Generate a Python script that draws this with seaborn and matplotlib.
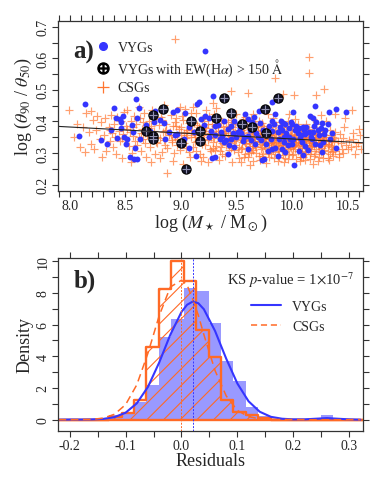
import numpy as np
import matplotlib
matplotlib.use("Agg")
import matplotlib.pyplot as plt
import seaborn as sns
from matplotlib.lines import Line2D
from matplotlib.ticker import MultipleLocator

# ---------------- panel a) : concentration vs stellar mass ----------------
# CSGs (grouped by mass bins of 0.1 dex)
csg_mass = [
    7.99, 8.04, 8.07, 8.09,
    8.12, 8.14, 8.15, 8.17, 8.19, 8.19,
    8.21, 8.22, 8.24, 8.25, 8.27, 8.28, 8.29,
    8.31, 8.32, 8.33, 8.35, 8.36, 8.37, 8.38, 8.39,
    8.40, 8.41, 8.42, 8.43, 8.44, 8.45, 8.46, 8.47, 8.48, 8.49,
    8.50, 8.51, 8.52, 8.53, 8.54, 8.55, 8.56, 8.57, 8.58, 8.59, 8.55, 8.52,
    8.60, 8.61, 8.62, 8.63, 8.64, 8.65, 8.66, 8.67, 8.68, 8.69, 8.62, 8.66, 8.68,
    8.70, 8.71, 8.72, 8.73, 8.74, 8.75, 8.76, 8.77, 8.78, 8.79, 8.71, 8.73, 8.76, 8.78,
    8.80, 8.81, 8.82, 8.83, 8.84, 8.85, 8.86, 8.87, 8.88, 8.89, 8.81, 8.83, 8.85, 8.87, 8.88,
    8.90, 8.91, 8.92, 8.93, 8.94, 8.95, 8.96, 8.97, 8.98, 8.99, 8.91, 8.93, 8.95, 8.97, 8.99, 8.95,
    9.00, 9.01, 9.02, 9.03, 9.04, 9.05, 9.06, 9.07, 9.08, 9.09, 9.01, 9.03, 9.05, 9.07, 9.09, 9.02, 9.06,
    9.10, 9.11, 9.12, 9.13, 9.14, 9.15, 9.16, 9.17, 9.18, 9.19, 9.11, 9.12, 9.14, 9.15, 9.17, 9.18, 9.13, 9.19,
    9.20, 9.21, 9.22, 9.23, 9.24, 9.25, 9.26, 9.27, 9.28, 9.29, 9.20, 9.22, 9.23, 9.25, 9.26, 9.28, 9.29, 9.21, 9.24,
    9.30, 9.31, 9.32, 9.33, 9.34, 9.35, 9.36, 9.37, 9.38, 9.39, 9.30, 9.31, 9.33, 9.34, 9.36, 9.37, 9.38, 9.32, 9.35, 9.39,
    9.40, 9.41, 9.42, 9.43, 9.44, 9.45, 9.46, 9.47, 9.48, 9.49, 9.40, 9.41, 9.42, 9.44, 9.45, 9.46, 9.48, 9.49, 9.43, 9.47, 9.45,
    9.50, 9.51, 9.52, 9.53, 9.54, 9.55, 9.56, 9.57, 9.58, 9.59, 9.50, 9.51, 9.52, 9.53, 9.55, 9.56, 9.57, 9.58, 9.54, 9.59, 9.51, 9.56,
    9.60, 9.61, 9.62, 9.63, 9.64, 9.65, 9.66, 9.67, 9.68, 9.69, 9.60, 9.61, 9.62, 9.63, 9.64, 9.65, 9.66, 9.67, 9.68, 9.69, 9.62, 9.65, 9.60,
    9.70, 9.71, 9.72, 9.73, 9.74, 9.75, 9.76, 9.77, 9.78, 9.79, 9.70, 9.71, 9.72, 9.73, 9.74, 9.75, 9.76, 9.77, 9.78, 9.79, 9.71, 9.73, 9.75, 9.77,
    9.80, 9.81, 9.82, 9.83, 9.84, 9.85, 9.86, 9.87, 9.88, 9.89, 9.80, 9.81, 9.82, 9.83, 9.84, 9.85, 9.86, 9.87, 9.88, 9.89, 9.81, 9.83, 9.85, 9.87, 9.89,
    9.90, 9.91, 9.92, 9.93, 9.94, 9.95, 9.96, 9.97, 9.98, 9.99, 9.90, 9.91, 9.92, 9.93, 9.94, 9.95, 9.96, 9.97, 9.98, 9.99, 9.91, 9.93, 9.95, 9.97, 9.99, 9.92,
    10.00, 10.01, 10.02, 10.03, 10.04, 10.05, 10.06, 10.07, 10.08, 10.09, 10.00, 10.01, 10.02, 10.03, 10.04, 10.05, 10.06, 10.07, 10.08, 10.09, 10.01, 10.03, 10.05, 10.07, 10.09, 10.02, 10.06,
    10.10, 10.11, 10.12, 10.13, 10.14, 10.15, 10.16, 10.17, 10.18, 10.19, 10.10, 10.11, 10.12, 10.13, 10.14, 10.15, 10.16, 10.17, 10.18, 10.19, 10.11, 10.13, 10.15, 10.17, 10.19, 10.15, 10.15,
    10.20, 10.21, 10.22, 10.23, 10.24, 10.25, 10.26, 10.27, 10.28, 10.29, 10.20, 10.21, 10.22, 10.23, 10.24, 10.25, 10.26, 10.27, 10.28, 10.29, 10.22, 10.26, 10.29,
    10.30, 10.31, 10.32, 10.33, 10.34, 10.35, 10.36, 10.37, 10.38, 10.39, 10.31, 10.33, 10.35, 10.37, 10.39,
    10.41, 10.43, 10.45, 10.47, 10.49, 10.42, 10.46, 10.48,
    10.51, 10.53, 10.55, 10.57, 10.59, 10.54, 10.61, 10.62,
    # dense core
    9.32, 9.36, 9.41, 9.43, 9.47, 9.49, 9.52, 9.54, 9.57, 9.59,
    9.61, 9.63, 9.65, 9.67, 9.69, 9.71, 9.73, 9.75, 9.77, 9.79,
    9.81, 9.83, 9.85, 9.87, 9.89, 9.91, 9.93, 9.95, 9.97, 9.99,
    10.01, 10.03, 10.05, 10.07, 10.09, 10.11, 10.13, 10.15, 10.17, 10.19,
    10.21, 10.23, 10.25, 10.27, 10.29, 10.31, 10.33, 10.35, 10.37, 10.39,
    9.55, 9.58, 9.62, 9.66, 9.68, 9.72, 9.74, 9.76, 9.78, 9.80,
    9.82, 9.84, 9.86, 9.88, 9.90, 9.92, 9.94, 9.96, 9.98, 10.00,
    10.02, 10.04, 10.06, 10.08, 10.10, 10.12, 10.14, 10.16, 10.18, 10.20,
    10.22, 10.24, 10.26, 10.28, 10.30, 10.32, 10.34, 10.36, 10.38, 10.44,
    9.05, 9.09, 9.13, 9.17, 9.21, 9.24, 9.27, 9.29, 9.33, 9.37,
    8.86, 8.92, 8.96, 9.00, 8.74, 8.79, 8.64, 8.57, 8.47, 8.36,
    9.44, 9.46, 9.48, 9.53, 9.57, 9.61, 9.64, 9.70, 9.74, 9.79,
    9.84, 9.88, 9.92, 9.96, 10.00, 10.04, 10.08, 10.12, 10.16, 10.20,
    10.24, 10.28, 10.32, 10.36, 10.42, 10.46, 10.50, 10.55, 10.60, 10.58,
]
csg_conc = [
    0.437, 0.352, 0.392, 0.318,
    0.381, 0.302, 0.428, 0.366, 0.434, 0.329,
    0.405, 0.312, 0.372, 0.418, 0.344, 0.397, 0.289,
    0.357, 0.410, 0.305, 0.383, 0.338, 0.421, 0.365, 0.319,
    0.392, 0.352, 0.296, 0.415, 0.371, 0.338, 0.402, 0.283, 0.360, 0.430,
    0.346, 0.385, 0.437, 0.322, 0.368, 0.401, 0.299, 0.355, 0.417, 0.337, 0.272, 0.377,
    0.391, 0.325, 0.352, 0.412, 0.306, 0.376, 0.345, 0.428, 0.362, 0.289, 0.446, 0.398, 0.331,
    0.357, 0.402, 0.318, 0.385, 0.436, 0.341, 0.371, 0.296, 0.409, 0.352, 0.378, 0.273, 0.423, 0.334,
    0.389, 0.348, 0.415, 0.303, 0.366, 0.452, 0.327, 0.392, 0.236, 0.357, 0.283, 0.406, 0.341, 0.372, 0.316,
    0.368, 0.421, 0.335, 0.387, 0.299, 0.352, 0.412, 0.324, 0.376, 0.447, 0.356, 0.275, 0.398, 0.346, 0.311, 0.661,
    0.383, 0.342, 0.405, 0.362, 0.438, 0.317, 0.374, 0.395, 0.288, 0.351, 0.418, 0.331, 0.366, 0.302, 0.426, 0.265, 0.356,
    0.372, 0.318, 0.394, 0.351, 0.427, 0.339, 0.381, 0.296, 0.362, 0.409, 0.446, 0.365, 0.308, 0.389, 0.344, 0.276, 0.357, 0.328,
    0.357, 0.402, 0.326, 0.378, 0.341, 0.418, 0.364, 0.306, 0.393, 0.335, 0.289, 0.371, 0.436, 0.352, 0.314, 0.368, 0.459, 0.383, 0.273,
    0.348, 0.387, 0.322, 0.369, 0.412, 0.339, 0.358, 0.296, 0.381, 0.346, 0.425, 0.311, 0.353, 0.278, 0.394, 0.332, 0.365, 0.443, 0.305, 0.371,
    0.362, 0.327, 0.398, 0.344, 0.376, 0.315, 0.352, 0.421, 0.338, 0.367, 0.291, 0.385, 0.357, 0.331, 0.404, 0.272, 0.349, 0.395, 0.311, 0.358, 0.497,
    0.341, 0.372, 0.318, 0.389, 0.353, 0.334, 0.407, 0.362, 0.297, 0.346, 0.425, 0.357, 0.283, 0.369, 0.316, 0.381, 0.338, 0.414, 0.271, 0.328, 0.302, 0.354,
    0.352, 0.321, 0.376, 0.341, 0.398, 0.309, 0.362, 0.335, 0.384, 0.347, 0.289, 0.367, 0.331, 0.412, 0.356, 0.274, 0.339, 0.393, 0.318, 0.371, 0.262, 0.425, 0.489,
    0.338, 0.365, 0.312, 0.351, 0.387, 0.326, 0.344, 0.372, 0.301, 0.357, 0.403, 0.329, 0.361, 0.292, 0.339, 0.378, 0.315, 0.348, 0.423, 0.333, 0.278, 0.396, 0.355, 0.267,
    0.347, 0.318, 0.371, 0.336, 0.359, 0.302, 0.388, 0.325, 0.352, 0.341, 0.381, 0.296, 0.345, 0.412, 0.328, 0.539, 0.335, 0.366, 0.289, 0.398, 0.357, 0.311, 0.373, 0.276, 0.323,
    0.332, 0.364, 0.313, 0.349, 0.326, 0.381, 0.341, 0.297, 0.356, 0.334, 0.377, 0.308, 0.342, 0.365, 0.285, 0.329, 0.402, 0.351, 0.319, 0.373, 0.345, 0.272, 0.359, 0.423, 0.315, 0.487,
    0.339, 0.318, 0.357, 0.331, 0.372, 0.305, 0.346, 0.325, 0.361, 0.338, 0.384, 0.296, 0.348, 0.312, 0.336, 0.393, 0.328, 0.287, 0.354, 0.369, 0.322, 0.407, 0.341, 0.274, 0.315, 0.483, 0.364,
    0.334, 0.352, 0.316, 0.341, 0.367, 0.323, 0.345, 0.306, 0.358, 0.331, 0.289, 0.372, 0.337, 0.391, 0.312, 0.349, 0.281, 0.364, 0.327, 0.409, 0.346, 0.298, 0.376, 0.335, 0.265, 0.605, 0.553,
    0.331, 0.357, 0.314, 0.345, 0.326, 0.369, 0.302, 0.338, 0.352, 0.321, 0.383, 0.296, 0.348, 0.274, 0.362, 0.335, 0.391, 0.317, 0.285, 0.342, 0.485, 0.419, 0.503,
    0.328, 0.351, 0.306, 0.339, 0.372, 0.318, 0.345, 0.291, 0.334, 0.366, 0.402, 0.277, 0.356, 0.312, 0.425,
    0.337, 0.359, 0.314, 0.382, 0.326, 0.298, 0.348, 0.412,
    0.342, 0.318, 0.365, 0.296, 0.331, 0.436, 0.358, 0.312,
    # dense core
    0.362, 0.318, 0.371, 0.334, 0.382, 0.326, 0.361, 0.312, 0.348, 0.392,
    0.342, 0.304, 0.361, 0.322, 0.386, 0.351, 0.318, 0.343, 0.361, 0.309,
    0.332, 0.368, 0.344, 0.312, 0.359, 0.326, 0.381, 0.347, 0.328, 0.355,
    0.336, 0.352, 0.321, 0.343, 0.302, 0.361, 0.327, 0.339, 0.318, 0.351,
    0.341, 0.322, 0.348, 0.362, 0.311, 0.337, 0.324, 0.341, 0.352, 0.308,
    0.374, 0.331, 0.385, 0.352, 0.301, 0.374, 0.361, 0.331, 0.345, 0.362,
    0.326, 0.341, 0.352, 0.333, 0.347, 0.361, 0.338, 0.312, 0.342, 0.361,
    0.326, 0.347, 0.358, 0.331, 0.349, 0.305, 0.352, 0.331, 0.343, 0.322,
    0.366, 0.308, 0.329, 0.345, 0.356, 0.329, 0.296, 0.321, 0.348, 0.331,
    0.347, 0.372, 0.336, 0.361, 0.343, 0.391, 0.352, 0.317, 0.384, 0.347,
    0.371, 0.342, 0.386, 0.356, 0.361, 0.331, 0.362, 0.381, 0.349, 0.372,
    0.355, 0.392, 0.309, 0.343, 0.289, 0.301, 0.315, 0.292, 0.298, 0.289,
    0.285, 0.306, 0.294, 0.282, 0.293, 0.281, 0.287, 0.279, 0.297, 0.291,
    0.287, 0.299, 0.285, 0.302, 0.289, 0.301, 0.312, 0.343, 0.375, 0.321,
]

# VYGs
vyg_mass = [
    8.08, 8.14, 8.28, 8.34, 8.40, 8.42, 8.45, 8.48, 8.46, 8.37,
    8.46, 8.56, 8.60, 8.43, 8.49, 8.52, 8.51, 8.54, 8.58, 8.61,
    8.57, 8.59, 8.62, 8.61, 8.63, 8.76, 8.77, 8.85, 8.86, 8.93,
    8.97, 9.04, 8.89, 8.95, 9.07, 9.07, 9.15, 9.16, 9.18, 9.21,
    9.22, 9.25, 9.27, 9.29, 9.12, 9.03, 9.22, 9.30, 9.31, 9.31,
    9.31, 9.39, 9.42, 9.45, 9.48, 9.52, 9.58, 9.60, 9.66, 9.64,
    9.70, 9.82, 9.85, 9.82, 9.90, 9.94, 9.99, 9.97, 9.51, 9.45,
    9.39, 9.48, 9.42, 9.43, 9.54, 9.60, 9.60, 9.67, 9.69, 9.82,
    9.87, 9.91, 9.93, 9.97, 9.78, 9.82, 9.85, 9.91, 9.94, 9.87,
    9.73, 9.75, 9.93, 10.00, 10.02, 9.36, 10.21, 10.33, 10.40, 10.49,
    10.16, 10.19, 10.22, 10.27, 10.13, 10.10, 10.04, 10.00, 10.15, 10.19,
    10.12, 10.01, 10.07, 10.18, 10.12, 10.06, 10.10, 10.27, 10.40, 9.14,
    9.28, 9.35, 9.56, 9.62, 9.76, 9.79, 9.88, 10.05, 10.09, 10.24,
    10.30, 10.34, 10.25, 10.14, 9.96, 9.72, 9.66, 9.50, 9.25, 9.18,
    8.97, 8.72, 8.81, 8.69, 10.01,
    9.33, 9.37, 9.41, 9.47, 9.53, 9.57, 9.63, 9.68, 9.71, 9.74,
    9.77, 9.81, 9.84, 9.89, 9.92, 9.95, 9.98, 10.03, 10.06, 10.08,
    10.11, 10.17, 10.20, 10.23, 10.26, 10.29, 10.32, 10.36, 10.21, 10.28,
]
vyg_conc = [
    0.355, 0.456, 0.342, 0.329, 0.442, 0.410, 0.408, 0.418, 0.398, 0.374,
    0.379, 0.389, 0.471, 0.347, 0.350, 0.345, 0.329, 0.287, 0.282, 0.282,
    0.366, 0.316, 0.442, 0.410, 0.345, 0.399, 0.434, 0.394, 0.343, 0.429,
    0.437, 0.427, 0.366, 0.358, 0.382, 0.316, 0.455, 0.461, 0.408, 0.389,
    0.418, 0.410, 0.370, 0.481, 0.366, 0.343, 0.622, 0.410, 0.385, 0.356,
    0.287, 0.403, 0.376, 0.386, 0.400, 0.392, 0.424, 0.408, 0.413, 0.398,
    0.434, 0.463, 0.424, 0.400, 0.403, 0.392, 0.398, 0.380, 0.366, 0.345,
    0.334, 0.319, 0.298, 0.325, 0.363, 0.355, 0.313, 0.329, 0.350, 0.370,
    0.366, 0.373, 0.350, 0.350, 0.308, 0.313, 0.316, 0.313, 0.303, 0.292,
    0.277, 0.282, 0.334, 0.329, 0.261, 0.366, 0.448, 0.429, 0.440, 0.431,
    0.418, 0.410, 0.397, 0.394, 0.382, 0.382, 0.387, 0.392, 0.366, 0.368,
    0.361, 0.345, 0.347, 0.345, 0.322, 0.305, 0.295, 0.303, 0.316, 0.292,
    0.283, 0.345, 0.338, 0.372, 0.358, 0.385, 0.344, 0.362, 0.335, 0.358,
    0.372, 0.346, 0.325, 0.310, 0.326, 0.340, 0.389, 0.350, 0.350, 0.340,
    0.360, 0.370, 0.405, 0.388, 0.429,
    0.390, 0.355, 0.342, 0.362, 0.378, 0.352, 0.341, 0.365, 0.395, 0.372,
    0.330, 0.345, 0.392, 0.383, 0.396, 0.362, 0.343, 0.372, 0.380, 0.356,
    0.372, 0.352, 0.385, 0.372, 0.380, 0.360, 0.392, 0.365, 0.330, 0.335,
]

# VYGs with EW(Halpha) > 150 A
ew_mass = [8.69, 8.75, 8.75, 8.75, 8.84, 9.00, 9.05, 9.09, 9.17,
           9.17, 9.32, 9.39, 9.45, 9.55, 9.64, 9.76, 9.77, 9.87]
ew_conc = [0.369, 0.355, 0.343, 0.420, 0.440, 0.331, 0.248, 0.403, 0.370,
           0.337, 0.410, 0.473, 0.426, 0.393, 0.381, 0.440, 0.365, 0.474]

# linear fit shown as a thin black line
fit_mass = [7.895, 10.64]
fit_conc = [0.3845, 0.3325]

# ---------------- panel b) : residual distributions ----------------
bin_edges = [-0.2185, -0.1963, -0.1740, -0.1518, -0.1295, -0.1073, -0.0850,
             -0.0628, -0.0405, -0.0183, 0.0040, 0.0263, 0.0485, 0.0708,
             0.0930, 0.1153, 0.1375, 0.1598, 0.1820, 0.2043, 0.2265,
             0.2488, 0.2710, 0.2933, 0.3155, 0.3378]
vyg_hist = [0.0, 0.0, 0.0, 0.1, 0.3, 0.5, 1.1, 2.2, 5.2, 6.35, 8.3, 8.1,
            6.1, 3.7, 2.45, 0.8, 0.25, 0.0, 0.0, 0.0, 0.0, 0.3, 0.0, 0.0, 0.0]
csg_hist = [0.0, 0.0, 0.0, 0.0, 0.17, 0.4, 1.22, 4.58, 8.25, 10.0, 8.78,
            5.63, 3.95, 1.22, 0.5, 0.27, 0.13, 0.0, 0.0, 0.0, 0.0, 0.0,
            0.0, 0.0, 0.0]

kde_x = [-0.22, -0.20, -0.18, -0.16, -0.14, -0.12, -0.10, -0.08, -0.06,
         -0.04, -0.02, 0.00, 0.01, 0.02, 0.03, 0.04, 0.06, 0.08, 0.10,
         0.12, 0.14, 0.16, 0.18, 0.20, 0.22, 0.24, 0.26, 0.28, 0.30, 0.32]
vyg_kde = [0.0, 0.01, 0.01, 0.02, 0.05, 0.16, 0.44, 1.03, 2.07, 3.6,
           5.36, 6.8, 7.25, 7.45, 7.35, 6.97, 5.6, 3.85, 2.28, 1.16,
           0.5, 0.18, 0.06, 0.02, 0.02, 0.06, 0.1, 0.06, 0.02, 0.0]
csg_kde = [0.0, 0.0, 0.01, 0.02, 0.1, 0.34, 0.95, 2.2, 4.2, 6.55,
           8.37, 8.8, 8.5, 7.6, 6.6, 5.37, 3.1, 1.5, 0.58, 0.19,
           0.05, 0.02, 0.01, 0.01, 0.0, 0.0, 0.0, 0.0, 0.0, 0.0]

vyg_median = 0.02
csg_median = 0.0

BLUE = "#3535ff"
ORANGE = "#ff6a26"
CROSS = "#ff7630"

sns.set_theme(style="ticks")
plt.rcParams["font.family"] = ["Liberation Serif", "DejaVu Serif"]
plt.rcParams["mathtext.fontset"] = "stix"
plt.rcParams["hatch.linewidth"] = 0.8

fig = plt.figure(figsize=(3.74, 4.81), dpi=100)
ax1 = fig.add_axes([0.155, 0.601, 0.816, 0.353])
ax2 = fig.add_axes([0.155, 0.102, 0.816, 0.3595])


def style_axis(ax):
    for sp in ax.spines.values():
        sp.set_color("#333333")
        sp.set_linewidth(0.9)
    ax.tick_params(which="both", direction="out", top=True, right=True,
                   length=4, width=0.8, color="#333333", labelsize=10,
                   pad=2)
    ax.tick_params(axis="y", labelrotation=90)
    for lab in ax.get_yticklabels():
        lab.set_va("center")


# panel a
sns.scatterplot(x=csg_mass, y=csg_conc, ax=ax1, marker="+", s=40,
                color=CROSS, alpha=0.7, linewidth=0.85)
sns.scatterplot(x=vyg_mass, y=vyg_conc, ax=ax1, marker="o", s=18,
                color=BLUE, linewidth=0)
sns.scatterplot(x=ew_mass, y=ew_conc, ax=ax1, marker="o", s=44,
                color="#15152a", edgecolor="black", linewidth=0.8)
sns.scatterplot(x=ew_mass, y=ew_conc, ax=ax1, marker="+", s=26,
                color="#9090b0", linewidth=0.8)
sns.lineplot(x=fit_mass, y=fit_conc, ax=ax1, color="#222222", linewidth=0.8)

ax1.set_xlim(7.895, 10.64)
ax1.set_ylim(0.18, 0.718)
ax1.xaxis.set_major_locator(MultipleLocator(0.5))
ax1.xaxis.set_minor_locator(MultipleLocator(0.1))
ax1.yaxis.set_major_locator(MultipleLocator(0.1))
ax1.yaxis.set_minor_locator(MultipleLocator(0.05))
ax1.set_xlabel(r"log ($M_\star$ / M$_\odot$)", fontsize=13, labelpad=0)
ax1.set_ylabel(r"log ($\theta_{90}$ / $\theta_{50}$)", fontsize=13, labelpad=2)
style_axis(ax1)

handles_a = [
    Line2D([], [], ls="", marker="o", color=BLUE, markersize=5.5),
    Line2D([], [], ls="", marker=r"$\oplus$", color="black", markersize=8),
    Line2D([], [], ls="", marker="+", color=CROSS, markersize=8,
           markeredgewidth=0.9),
]
ax1.legend(handles_a, ["VYGs", r"VYGs with EW(H$\alpha$) > 150 $\mathrm{\AA}$", "CSGs"],
           loc="upper left", bbox_to_anchor=(0.088, 0.94), frameon=False,
           fontsize=10, handletextpad=0.45, labelspacing=0.22,
           handlelength=1.2, borderaxespad=0.3)
ax1.text(0.05, 0.82, "a)", transform=ax1.transAxes, fontsize=18,
         fontweight="bold", va="center")

# panel b
sns.histplot(x=bin_edges[:-1], weights=vyg_hist, bins=bin_edges, ax=ax2,
             element="step", fill=True, color=BLUE, alpha=0.5, linewidth=0,
             stat="count")
sns.histplot(x=bin_edges[:-1], weights=csg_hist, bins=bin_edges, ax=ax2,
             element="step", fill=True, color=ORANGE, alpha=1, linewidth=1.6,
             stat="count")
hatched = ax2.collections[-1]
hatched.set_facecolor("none")
hatched.set_edgecolor(ORANGE)
hatched.set_hatch("//")
hatched.set_linewidth(1.7)

sns.lineplot(x=kde_x, y=vyg_kde, ax=ax2, color=BLUE, linewidth=1.5)
sns.lineplot(x=kde_x, y=csg_kde, ax=ax2, color=ORANGE, linewidth=1.1,
             dashes=False)
ax2.lines[-1].set_dashes((5, 3))
ax2.axvline(csg_median, color=ORANGE, linewidth=0.7, ls=(0, (2, 1.5)))
ax2.axvline(vyg_median, color=BLUE, linewidth=0.7, ls=(0, (2, 1.5)))

ax2.set_xlim(-0.221, 0.325)
ax2.set_ylim(-0.71, 10.2)
ax2.xaxis.set_major_locator(MultipleLocator(0.1))
ax2.xaxis.set_minor_locator(MultipleLocator(0.05))
ax2.yaxis.set_major_locator(MultipleLocator(2))
ax2.yaxis.set_minor_locator(MultipleLocator(1))
ax2.set_xticks([-0.2, -0.1, 0.0, 0.1, 0.2, 0.3])
ax2.set_xticklabels(["-0.2", "-0.1", "0.0", "0.1", "0.2", "0.3"])
ax2.set_xlabel("Residuals", fontsize=13, labelpad=0)
ax2.set_ylabel("Density", fontsize=13, labelpad=2)
style_axis(ax2)

handles_b = [Line2D([], [], color=BLUE, lw=1.5),
             Line2D([], [], color=ORANGE, lw=1.1, dashes=(4, 2.5))]
ax2.legend(handles_b, ["VYGs", "CSGs"], loc="upper left",
           bbox_to_anchor=(0.59, 0.83), frameon=False, fontsize=10,
           handlelength=2.2, handletextpad=0.8, labelspacing=0.5)
ax2.text(0.05, 0.87, "b)", transform=ax2.transAxes, fontsize=18,
         fontweight="bold", va="center")
ax2.text(0.97, 0.875, r"KS $p$-value = 1$\times$10$^{-7}$",
         transform=ax2.transAxes, fontsize=10.5, ha="right", va="center")

fig.savefig("out.png", dpi=100)
